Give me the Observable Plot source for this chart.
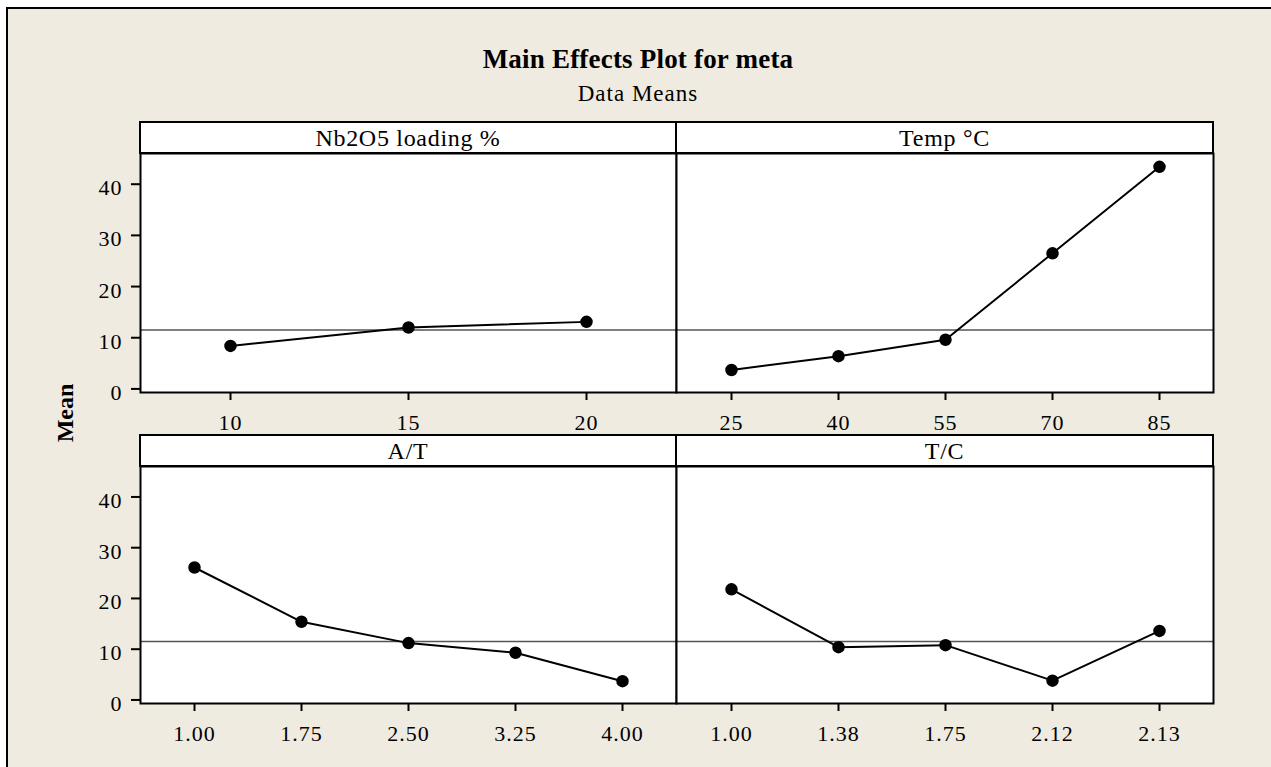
<!DOCTYPE html>
<html>
<head>
<meta charset="utf-8">
<script src="https://cdn.jsdelivr.net/npm/d3@7"></script>
<script src="https://cdn.jsdelivr.net/npm/@observablehq/plot@0.6"></script>
<style>
  html, body { margin: 0; padding: 0; background: #ffffff; }
  body { width: 1271px; height: 767px; overflow: hidden; position: relative;
         font-family: "Liberation Serif", "Times New Roman", serif; color: #000; }
  #frame { position: absolute; left: 6px; top: 7px; width: 1300px; height: 800px;
           border-left: 2px solid #000; border-top: 2px solid #000; background: #EFEBE1; }
  .abs { position: absolute; }
  #title { left: 0; width: 1276px; top: 46px; font-size: 27px; line-height: 27px; font-weight: bold; text-align: center; letter-spacing: 0.2px; }
  #subtitle { left: 0; width: 1276px; top: 82px; font-size: 23px; line-height: 23px; text-align: center; letter-spacing: 1px; }
  #ylab { left: 5px; width: 120px; top: 401px; height: 24px; font-size: 24px; line-height: 24px; font-weight: bold;
          text-align: center; transform: rotate(-90deg); }
  .strip { box-sizing: border-box; border: 2px solid #000; background: #fff; height: 33px;
           font-size: 24px; line-height: 30px; text-align: center; white-space: nowrap; letter-spacing: 0.7px; }
</style>
</head>
<body>
<div id="frame"></div>
<div id="title" class="abs">Main Effects Plot for meta</div>
<div id="subtitle" class="abs">Data Means</div>
<div id="ylab" class="abs">Mean</div>
<div id="panels"></div>
<script>
// ---- data ----
const panelTitles = ["Nb2O5 loading %", "Temp °C", "A/T", "T/C"];
const nbLevels = ["10", "15", "20"];
const nbMeans = [8.4, 12.0, 13.1];
const tempLevels = ["25", "40", "55", "70", "85"];
const tempMeans = [3.7, 6.4, 9.6, 26.5, 43.4];
const atLevels = ["1.00", "1.75", "2.50", "3.25", "4.00"];
const atMeans = [26.1, 15.4, 11.2, 9.3, 3.7];
const tcLevels = ["1.00", "1.38", "1.75", "2.12", "2.13"];
const tcMeans = [21.8, 10.4, 10.8, 3.8, 13.6];
const grandMean = 11.5;
const yTicks = [0, 10, 20, 30, 40];
const yDomain = [-0.7, 46];

const FONT = '"Liberation Serif", "Times New Roman", serif';

function makePanel(levels, means, showY, plotHeight) {
  const data = levels.map((l, i) => ({level: l, mean: means[i]}));
  return Plot.plot({
    width: showY ? 676 : 537,
    height: plotHeight + 50,
    marginLeft: showY ? 140 : 0,
    marginRight: 0,
    marginTop: 0,
    marginBottom: 50,
    style: {background: "transparent", overflow: "visible", fontFamily: FONT, fontSize: "22px", color: "#000", letterSpacing: "1px"},
    x: {type: "point", domain: levels, padding: 0.5},
    y: showY ? {domain: yDomain} : {domain: yDomain, axis: null},
    marks: [
      Plot.frame({fill: "white"}),
      Plot.ruleY([grandMean], {stroke: "#555", strokeWidth: 1.5}),
      Plot.line(data, {x: "level", y: "mean", stroke: "black", strokeWidth: 2}),
      Plot.dot(data, {x: "level", y: "mean", r: 5.5, fill: "black", stroke: "black"}),
      Plot.frame({stroke: "black", strokeWidth: 2}),
      Plot.axisX({tickSize: 8, tickPadding: 14, strokeWidth: 2, label: null}),
      showY ? Plot.axisY({ticks: yTicks, tickSize: 9, strokeWidth: 2, fill: "none", label: null}) : null,
      showY ? Plot.axisY({ticks: yTicks, tickSize: 0, tickPadding: 18, dy: 4, label: null}) : null
    ]
  });
}

const layout = [
  {levels: nbLevels, means: nbMeans, title: panelTitles[0], showY: true, left: 0, top: 153, h: 239, stripLeft: 139, stripTop: 121, stripW: 538},
  {levels: tempLevels, means: tempMeans, title: panelTitles[1], showY: false, left: 676, top: 153, h: 239, stripLeft: 675, stripTop: 121, stripW: 539},
  {levels: atLevels, means: atMeans, title: panelTitles[2], showY: true, left: 0, top: 466, h: 237, stripLeft: 139, stripTop: 434, stripW: 538},
  {levels: tcLevels, means: tcMeans, title: panelTitles[3], showY: false, left: 676, top: 466, h: 237, stripLeft: 675, stripTop: 434, stripW: 539}
];

const container = document.getElementById("panels");
for (const p of layout) {
  const chart = makePanel(p.levels, p.means, p.showY, p.h);
  const wrap = document.createElement("div");
  wrap.className = "abs";
  wrap.style.left = p.left + "px";
  wrap.style.top = p.top + "px";
  wrap.appendChild(chart);
  container.appendChild(wrap);
  const strip = document.createElement("div");
  strip.className = "abs strip";
  strip.style.left = p.stripLeft + "px";
  strip.style.top = p.stripTop + "px";
  strip.style.width = p.stripW + "px";
  strip.textContent = p.title;
  container.appendChild(strip);
}
</script>
</body>
</html>
